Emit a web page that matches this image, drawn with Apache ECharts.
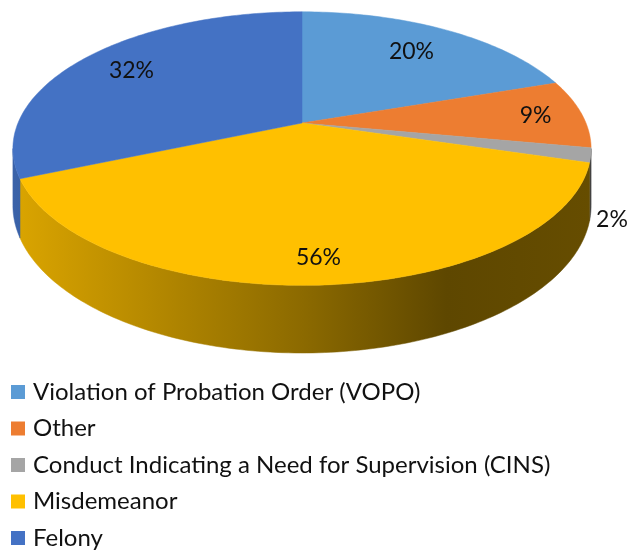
<!DOCTYPE html>
<html>
<head>
<meta charset="utf-8">
<script src="https://cdn.jsdelivr.net/npm/echarts@6/dist/echarts.min.js"></script>
<style>
  html, body { margin: 0; padding: 0; background: #fff; }
  #main { width: 634px; height: 550px; }
</style>
</head>
<body>
<div id="main"></div>
<script>
// chart data
const categories = [
  'Violation of Probation Order (VOPO)',
  'Other',
  'Conduct Indicating a Need for Supervision (CINS)',
  'Misdemeanor',
  'Felony'
]
// slice sizes as drawn in the picture (percent of the full circle)
const shares = [19.8, 8.1, 1.7, 39.0, 31.4]
// data labels as printed on the chart
const labelValues = [20, 9, 2, 56, 32]
const colors = ['#5B9BD5', '#ED7D31', '#A5A5A5', '#FFC000', '#4472C4']

// tilted pie with a bit of perspective
const cx = 302     // projected centre
const cy = 123
const R = 284      // horizontal scale
const K = 132      // vertical scale
const P = 0.187    // perspective strength
const D = 55       // wall height

const fontFamily = 'Lato, "Open Sans", sans-serif'

function shade(hex, f) {
  const n = parseInt(hex.slice(1), 16)
  const r = Math.round(((n >> 16) & 255) * f)
  const g = Math.round(((n >> 8) & 255) * f)
  const b = Math.round((n & 255) * f)
  return 'rgb(' + r + ',' + g + ',' + b + ')'
}

// a: degrees clockwise from 12 o'clock, r: fraction of radius, drop: wall offset
function proj(a, r, drop) {
  const rad = a * Math.PI / 180
  const s = r * Math.sin(rad)
  const u = r * Math.cos(rad)
  const f = 1 / (1 + P * u)
  return [cx + R * s * f, cy - K * u * f + drop * f]
}

// front wall is seen between the two horizontal extremes of the rim
const wallFrom = Math.acos(-P) * 180 / Math.PI
const wallTo = 360 - wallFrom

function renderSlice(i) {
  return function (params, api) {
    const total = shares.reduce((a, b) => a + b, 0)
    let before = 0
    for (let k = 0; k < i; k += 1) before += shares[k]
    const a0 = before / total * 360
    const a1 = (before + shares[i]) / total * 360
    const children = []

    const s = Math.max(a0, wallFrom)
    const e = Math.min(a1, wallTo)
    if (e > s) {
      const pts = []
      const n = Math.max(2, Math.ceil(e - s))
      for (let k = 0; k <= n; k += 1) pts.push(proj(s + (e - s) * k / n, 1, 0))
      for (let k = n; k >= 0; k -= 1) pts.push(proj(s + (e - s) * k / n, 1, D))
      const left = proj(wallTo, 1, 0)[0]
      const right = proj(wallFrom, 1, 0)[0]
      const grad = new echarts.graphic.LinearGradient(left, 0, right, 0, [
        { offset: 0, color: shade(colors[i], 0.86) },
        { offset: 0.5, color: shade(colors[i], 0.55) },
        { offset: 0.75, color: shade(colors[i], 0.37) },
        { offset: 1, color: shade(colors[i], 0.40) }
      ], true)
      children.push({
        type: 'polygon',
        shape: { points: pts },
        style: { fill: grad, stroke: grad, lineWidth: 0.5 },
        z2: 0
      })
    }

    // top face
    const top = [[cx, cy]]
    const m = Math.max(2, Math.ceil(a1 - a0))
    for (let k = 0; k <= m; k += 1) top.push(proj(a0 + (a1 - a0) * k / m, 1, 0))
    children.push({
      type: 'polygon',
      shape: { points: top },
      style: { fill: colors[i], stroke: colors[i], lineWidth: 0.5 },
      z2: 10
    })

    // data label, small slices get theirs outside next to the wall
    const mid = (a0 + a1) / 2
    const mr = mid * Math.PI / 180
    const lr = 0.78 - 0.08 * Math.cos(mr) + 0.06 * Math.sin(mr) * Math.sin(mr)
    const lp = shares[i] / total < 0.05 ? proj(mid, 1.07, D * 1.08) : proj(mid, lr, 0)
    children.push({
      type: 'text',
      x: lp[0],
      y: lp[1],
      style: {
        text: labelValues[i] + '%',
        fill: '#111',
        font: '23px ' + fontFamily,
        align: 'center',
        verticalAlign: 'middle'
      },
      z2: 20
    })

    return { type: 'group', children: children }
  }
}

const chart = echarts.init(document.getElementById('main'))

const series = categories.map((name, i) => ({
  name: name,
  type: 'custom',
  coordinateSystem: 'none',
  itemStyle: { color: colors[i] },
  renderItem: renderSlice(i),
  data: [[shares[i]]]
}))

chart.setOption({
  animation: false,
  legend: {
    orient: 'vertical',
    left: 11,
    top: 380,
    height: 220,
    padding: 0,
    icon: 'rect',
    itemWidth: 14,
    itemHeight: 14,
    itemGap: 12.5,
    data: categories,
    textStyle: {
      fontFamily: fontFamily,
      fontSize: 24,
      lineHeight: 24,
      color: '#111',
      padding: [0, 0, 0, 3]
    }
  },
  series: series
})
</script>
</body>
</html>
